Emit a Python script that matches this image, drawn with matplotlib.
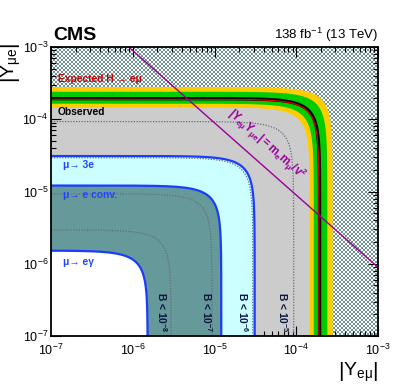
import numpy as np
import matplotlib
matplotlib.use("Agg")
from matplotlib import pyplot as plt
from matplotlib.colors import ListedColormap
from matplotlib.patches import Polygon

plt.rcParams['font.family'] = ['Liberation Sans', 'DejaVu Sans']
plt.rcParams['mathtext.fontset'] = 'custom'
plt.rcParams['mathtext.rm'] = 'Liberation Sans'
plt.rcParams['mathtext.it'] = 'Liberation Sans:italic'
plt.rcParams['mathtext.bf'] = 'Liberation Sans:bold'
plt.rcParams['mathtext.default'] = 'regular'

# limits on sqrt(|Y_emu|^2 + |Y_mue|^2)
obs_limit = 1.93e-4
exp_limit = 1.89e-4
exp_1sigma = (1.64e-4, 2.40e-4)
exp_2sigma = (1.46e-4, 2.78e-4)

# indirect constraints
limit_mu3e = 3.1e-5
limit_conv = 1.21e-5
limit_egamma = 1.52e-6

# B(H -> e mu) contours
br_labels = ['B < 10$^{-5}$', 'B < 10$^{-6}$', 'B < 10$^{-7}$', 'B < 10$^{-8}$']
br_radius = [9.3e-5, 2.94e-5, 9.3e-6, 2.94e-6]

# naturalness line |Y_emu Y_mue| = m_e m_mu / v^2
m_e, m_mu, vev = 0.511e-3, 0.10566, 246.0
natural = m_e * m_mu / vev**2

xmin, xmax = 1e-7, 1e-3
lo, hi = 1e-9, 1e-1


def arc(c):
    # quarter circle of radius c, from top-left to bottom-right
    th = np.linspace(np.arccos(lo / c), np.arcsin(lo / c), 3000)
    return c * np.cos(th), c * np.sin(th)


def inside(c):
    x, y = arc(c)
    return np.column_stack([np.r_[x, lo], np.r_[y, lo]])


def outside(c):
    x, y = arc(c)
    return np.column_stack([np.r_[x, hi, hi], np.r_[y, lo, hi]])


def band(c1, c2):
    x1, y1 = arc(c1)
    x2, y2 = arc(c2)
    return np.column_stack([np.r_[x1, x2[::-1]], np.r_[y1, y2[::-1]]])


fig = plt.figure(figsize=(3.99, 3.87), dpi=100)
ax = fig.add_axes([51 / 399, 51 / 387, 327 / 399, 289 / 387])
ax.set_xscale('log')
ax.set_yscale('log')

# allowed (grey) and excluded (checkered) regions
ax.add_patch(Polygon(inside(obs_limit), closed=True, fc='#cccccc', ec='none', zorder=1))
ii, jj = np.mgrid[0:289, 0:327]
checker = ((ii // 2) + (jj // 2)) % 2
im = ax.imshow(checker, extent=[0, 1, 0, 1], transform=ax.transAxes,
               cmap=ListedColormap(['white', '#6f9292']), interpolation='nearest',
               aspect='auto', zorder=1)
clip = Polygon(outside(obs_limit), closed=True, transform=ax.transData)
im.set_clip_path(clip)

# expected bands
ax.add_patch(Polygon(band(*exp_2sigma), closed=True, fc='#ffcc00', ec='none', zorder=2))
ax.add_patch(Polygon(band(*exp_1sigma), closed=True, fc='#00cc00', ec='none', zorder=2))
x, y = arc(obs_limit)
ax.plot(x, y, color='black', lw=2.4, zorder=3)
x, y = arc(exp_limit)
ax.plot(x, y, color='#dd0000', lw=0.9, zorder=3)

# indirect constraints
for c, fc in [(limit_mu3e, '#ccffff'), (limit_conv, '#669999'), (limit_egamma, 'white')]:
    ax.add_patch(Polygon(inside(c), closed=True, fc=fc, ec='none', zorder=4))
    x, y = arc(c)
    ax.plot(x, y, color='#1a3cff', lw=1.6, zorder=4)

# branching ratio contours
for c in br_radius:
    x, y = arc(c)
    ax.plot(x, y, color='#6a6a80', lw=0.9, ls=(0, (1, 1.2)), zorder=5)

xl = np.array([xmin, xmax])
ax.plot(xl, natural / xl, color='#990099', lw=1.0, zorder=6)

ax.set_xlim(xmin, xmax)
ax.set_ylim(xmin, xmax)

# labels inside the plot
bfs = 7.4
ax.text(0.021, 0.889, 'Expected H → eμ', color='#cc0000', fontsize=bfs,
        fontweight='bold', va='center', ha='left', zorder=7, transform=ax.transAxes)
ax.text(0.021, 0.775, 'Observed', color='black', fontsize=bfs,
        fontweight='bold', va='center', ha='left', zorder=7, transform=ax.transAxes)
for yy, s in [(0.592, 'μ→ 3e'), (0.488, 'μ→ e conv.'), (0.256, 'μ→ eγ')]:
    ax.text(0.037, yy, s, color='#2244ff', fontsize=bfs, fontweight='bold',
            va='center', ha='left', zorder=7, transform=ax.transAxes)
for xx, s in zip([0.709, 0.587, 0.477, 0.339], br_labels):
    ax.text(xx, 0.152, s, color='#0a1440', fontsize=bfs, fontweight='bold',
            rotation=-90, ha='center', va='top', zorder=7, transform=ax.transAxes)
ax.text(0.657, 0.661, r'$\mathbf{|Y_{e\mu}Y_{\mu e}|=m_{e}m_{\mu}/v^{2}}$',
        color='#990099', fontsize=8.3, rotation=-41.5, rotation_mode='anchor',
        ha='center', va='center', zorder=7, transform=ax.transAxes)

ax.text(0.006, 1.012, 'CMS', fontsize=14, fontweight='bold', ha='left',
        va='bottom', transform=ax.transAxes)
ax.text(1.0, 1.012, r'138 fb$^{-1}$ (13 TeV)', fontsize=9.5, ha='right',
        va='bottom', transform=ax.transAxes)

ax.text(1.0, -0.085, r'$\left|Y_{e\mu}\right|$', fontsize=14,
        ha='right', va='top', transform=ax.transAxes)
ax.text(-0.12, 1.015, r'$\left|Y_{\mu e}\right|$', fontsize=14, rotation=90,
        ha='center', va='top', transform=ax.transAxes)

ax.tick_params(which='both', direction='in', top=True, right=True, labelsize=9)
ax.tick_params(which='major', length=7, width=0.8)
ax.tick_params(which='minor', length=3.5, width=0.8)
ax.tick_params(axis='x', pad=5)
ax.tick_params(axis='y', pad=2)
for sp in ax.spines.values():
    sp.set_linewidth(1.3)
    sp.set_zorder(8)

fig.savefig('out.png', dpi=100)
